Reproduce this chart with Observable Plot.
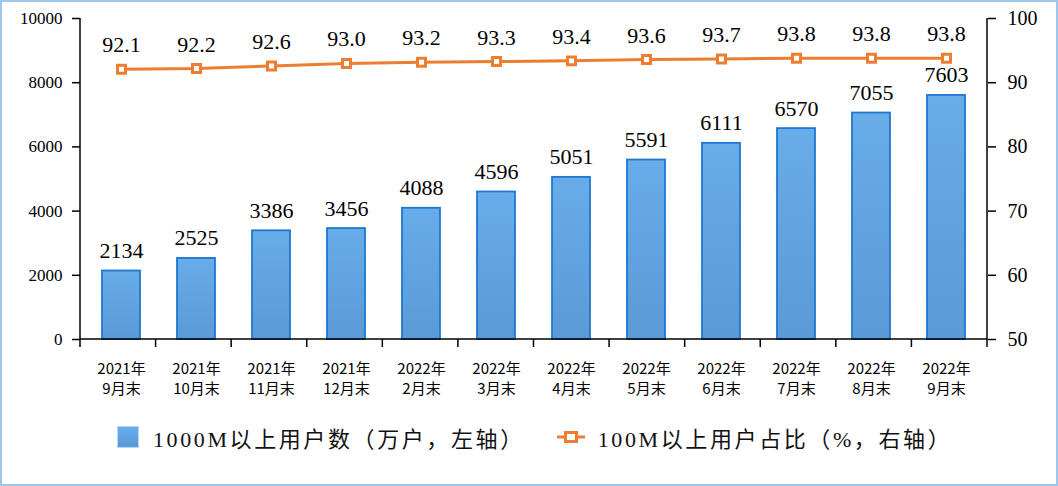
<!DOCTYPE html>
<html><head><meta charset="utf-8">
<script src="https://cdn.jsdelivr.net/npm/d3@7"></script>
<script src="https://cdn.jsdelivr.net/npm/@observablehq/plot@0.6"></script>
<style>
html,body{margin:0;padding:0;background:#fff;}
#wrap{position:relative;width:1058px;height:486px;overflow:hidden;background:#fff;}
#border{position:absolute;left:0;top:0;width:1058px;height:486px;box-sizing:border-box;border:2px solid #9cc8ee;pointer-events:none;}
#legend{position:absolute;left:117px;top:422px;height:30px;display:flex;align-items:center;font-family:"Liberation Serif","Noto Sans CJK SC",serif;font-size:22px;color:#111;white-space:nowrap;}
#legend span{letter-spacing:2.6px;}
.sw{width:22px;height:22px;box-sizing:border-box;border:1px solid #b8d6f2;background:linear-gradient(#68acea,#5a9ad6);margin-right:14px;}
.lk{margin-left:32px;margin-right:13px;display:block;}
svg text{font-family:"Liberation Serif",serif;}
</style></head>
<body><div id="wrap"><div id="chart"></div><div id="legend"></div><div id="border"></div></div>
<script>
const categories = ["2021年\n9月末","2021年\n10月末","2021年\n11月末","2021年\n12月末","2022年\n2月末","2022年\n3月末","2022年\n4月末","2022年\n5月末","2022年\n6月末","2022年\n7月末","2022年\n8月末","2022年\n9月末"];
const users = [2134,2525,3386,3456,4088,4596,5051,5591,6111,6570,7055,7603];
const share = [92.1,92.2,92.6,93.0,93.2,93.3,93.4,93.6,93.7,93.8,93.8,93.8];
const leftTicks = [0,2000,4000,6000,8000,10000];
const rightTicks = [50,60,70,80,90,100];
const seriesNames = ["1000M以上用户数（万户，左轴）","100M以上用户占比（%，右轴）"];

const BLUE_STROKE = "#1e78d0", ORANGE = "#ed7d31";
const SERIF = "Liberation Serif";
const toLeft = p => (p - 50) * 200;
const fromLeft = v => v / 200 + 50;
const rows = categories.map((c, i) => ({cat: c, users: users[i], share: share[i], shareY: toLeft(share[i])}));

const defs = () => {
  const d = d3.create("svg:defs");
  const g = d.append("linearGradient").attr("id", "barGrad").attr("x1", 0).attr("y1", 0).attr("x2", 0).attr("y2", 1);
  g.append("stop").attr("offset", "0%").attr("stop-color", "#68acea");
  g.append("stop").attr("offset", "100%").attr("stop-color", "#5a9ad6");
  return d.node();
};

const frameLines = (index, scales, values, dims) => {
  const {width, height, marginLeft, marginRight, marginTop, marginBottom} = dims;
  const g = d3.create("svg:g").attr("stroke", "#000").attr("stroke-width", 1.5);
  const x0 = marginLeft, x1 = width - marginRight, y0 = marginTop, y1 = height - marginBottom;
  g.append("line").attr("x1", x0).attr("x2", x0).attr("y1", y0).attr("y2", y1);
  g.append("line").attr("x1", x1).attr("x2", x1).attr("y1", y0).attr("y2", y1);
  g.append("line").attr("x1", x0).attr("x2", x1).attr("y1", y1).attr("y2", y1);
  const step = (x1 - x0) / categories.length;
  for (let i = 0; i <= categories.length; i++) {
    const px = x0 + i * step;
    g.append("line").attr("x1", px).attr("x2", px).attr("y1", y1).attr("y2", y1 + 8);
  }
  return g.node();
};

const chart = Plot.plot({
  width: 1058, height: 400,
  marginTop: 18, marginBottom: 61, marginLeft: 80, marginRight: 71,
  style: {color: "#000", background: "transparent", overflow: "visible"},
  x: {domain: categories, paddingInner: 0.5, paddingOuter: 0.25},
  y: {domain: [0, 10000]},
  marks: [
    defs,
    Plot.barY(rows, {x: "cat", y: "users", fill: "url(#barGrad)", stroke: BLUE_STROKE, strokeWidth: 1.8}),
    Plot.text(rows, {x: "cat", y: "users", text: d => String(d.users), dy: -20, fontSize: 22, fontFamily: SERIF, fill: "#000"}),
    Plot.line(rows, {x: "cat", y: "shareY", stroke: ORANGE, strokeWidth: 3}),
    Plot.dot(rows, {x: "cat", y: "shareY", symbol: "square", r: 4.5, fill: "white", stroke: ORANGE, strokeWidth: 3}),
    Plot.text(rows, {x: "cat", y: "shareY", text: d => d.share.toFixed(1), dy: -24, fontSize: 22, fontFamily: SERIF, fill: "#000"}),
    Plot.axisY({anchor: "left", ticks: leftTicks, tickFormat: d => String(d), tickSize: 8, tickPadding: 10, fontSize: 17, fontFamily: SERIF, label: null, strokeWidth: 1.5}),
    Plot.axisY({anchor: "right", ticks: rightTicks.map(toLeft), tickFormat: d => String(fromLeft(d)), tickSize: 8, tickPadding: 12, fontSize: 20, fontFamily: SERIF, label: null, strokeWidth: 1.5}),
    Plot.axisX({tickSize: 0, tickPadding: 20, fontSize: 15, fontFamily: "Noto Sans CJK SC", lineHeight: 1.33, label: null}),
    frameLines
  ]
});
document.getElementById("chart").appendChild(chart);
chart.querySelectorAll("[aria-label='x-axis tick label'] text").forEach(t => t.style.fontFamily = "'Noto Sans CJK SC'");

const legend = document.getElementById("legend");
const sw = document.createElement("div"); sw.className = "sw"; legend.appendChild(sw);
const t1 = document.createElement("span"); t1.textContent = seriesNames[0]; legend.appendChild(t1);
const lk = d3.create("svg").attr("class", "lk").attr("width", 28).attr("height", 16);
lk.append("line").attr("x1", 0).attr("x2", 28).attr("y1", 8).attr("y2", 8).attr("stroke", ORANGE).attr("stroke-width", 3);
lk.append("rect").attr("x", 8.5).attr("y", 3.5).attr("width", 11).attr("height", 9).attr("fill", "white").attr("stroke", ORANGE).attr("stroke-width", 3);
legend.appendChild(lk.node());
const t2 = document.createElement("span"); t2.textContent = seriesNames[1]; legend.appendChild(t2);
</script>
</body></html>
